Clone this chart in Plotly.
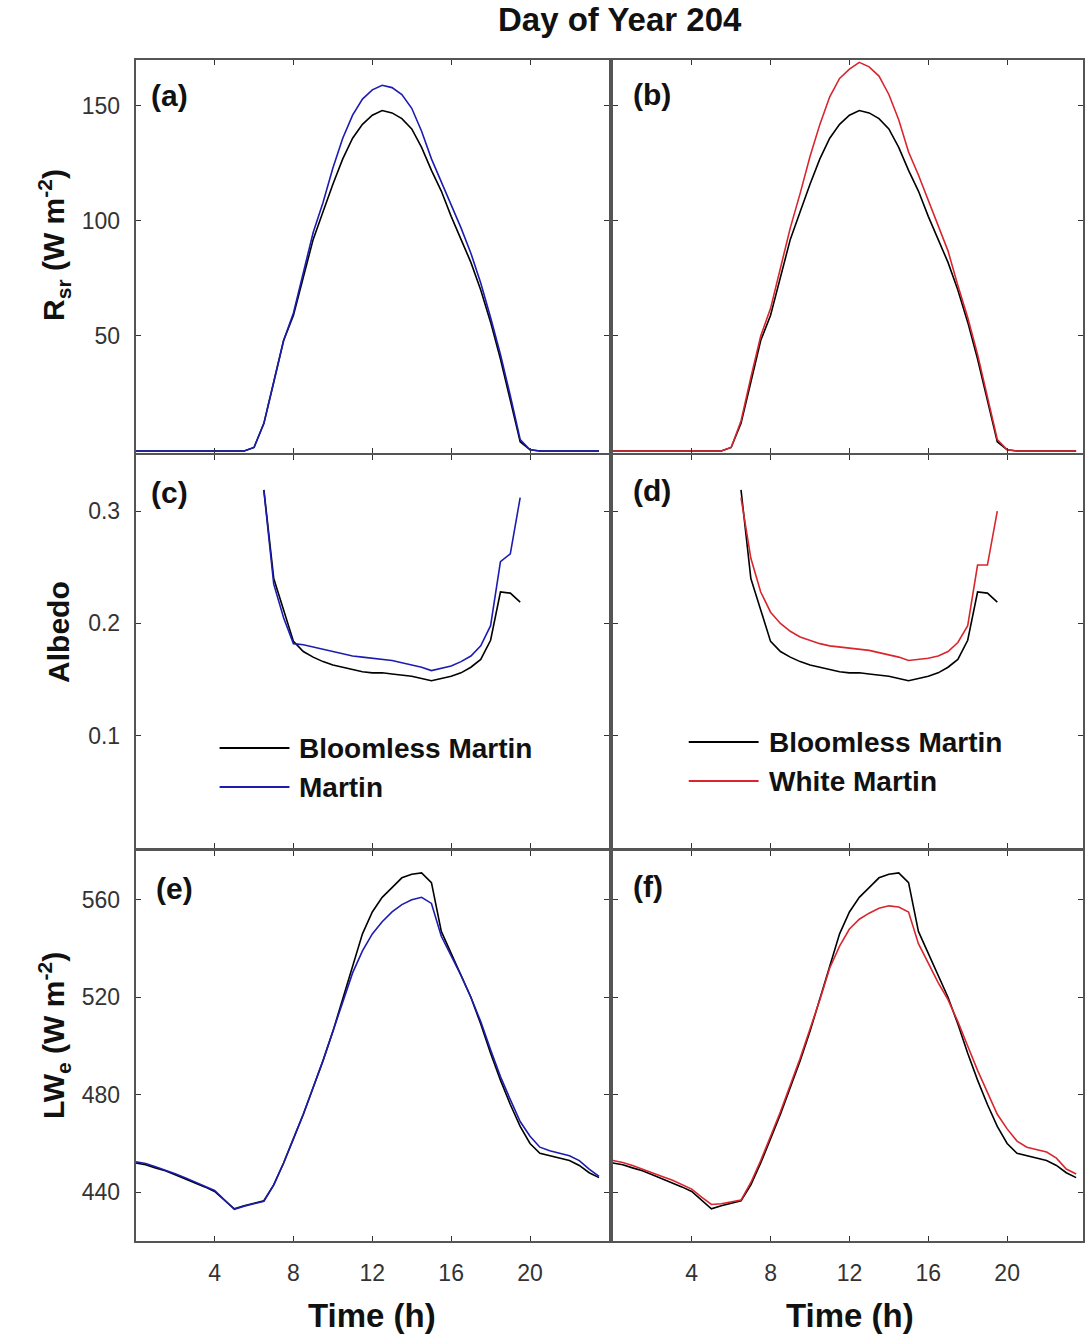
import plotly.graph_objects as go

W, H = 1085, 1340

hours = [0, 0.5, 1, 1.5, 2, 2.5, 3, 3.5, 4, 4.5, 5, 5.5, 6, 6.5, 7, 7.5, 8, 8.5, 9, 9.5,
         10, 10.5, 11, 11.5, 12, 12.5, 13, 13.5, 14, 14.5, 15, 15.5, 16, 16.5, 17, 17.5,
         18, 18.5, 19, 19.5, 20, 20.5, 21, 21.5, 22, 22.5, 23, 23.5]

series_names = ["Bloomless Martin", "Martin", "White Martin"]

rsr_bloomless = [0]*12 + [1.5, 12, 30, 48, 59, 76, 92, 104, 116, 127, 136, 142, 146, 148, 147, 144.5,
                          140, 132, 122, 113, 102, 92, 82, 70, 56, 40, 22, 4, 0.5] + [0]*7
rsr_martin = [0]*12 + [1.5, 12, 30, 48, 60, 78, 95, 108, 123, 136, 146, 153, 157, 159, 158, 155,
                       149, 139, 127, 117, 107, 97, 86, 73, 58, 42, 24, 5, 0.5] + [0]*7
rsr_white = [0]*12 + [1.5, 13, 32, 50, 62, 80, 97, 112, 128, 142, 154, 162, 166, 169, 167, 163,
                      155, 144, 130, 120, 109, 98, 87, 72, 58, 42, 24, 5, 0.5] + [0]*7

alb_bloomless = [None]*13 + [0.319, 0.240, 0.212, 0.184, 0.175, 0.170, 0.166, 0.163, 0.161, 0.159,
                             0.157, 0.156, 0.156, 0.155, 0.154, 0.153, 0.151, 0.149, 0.151, 0.153,
                             0.156, 0.161, 0.168, 0.185, 0.228, 0.227, 0.219] + [None]*8
alb_martin = [None]*13 + [0.318, 0.235, 0.205, 0.182, 0.181, 0.179, 0.177, 0.175, 0.173, 0.171,
                          0.170, 0.169, 0.168, 0.167, 0.165, 0.163, 0.161, 0.158, 0.160, 0.162,
                          0.166, 0.171, 0.180, 0.198, 0.255, 0.262, 0.312] + [None]*8
alb_white = [None]*13 + [0.312, 0.258, 0.228, 0.210, 0.200, 0.193, 0.188, 0.185, 0.182, 0.180,
                         0.179, 0.178, 0.177, 0.176, 0.174, 0.172, 0.170, 0.167, 0.168, 0.169,
                         0.171, 0.175, 0.183, 0.198, 0.252, 0.252, 0.300] + [None]*8

lwe_bloomless = [452, 451.3, 450, 448.8, 447.2, 445.6, 444, 442.2, 440.3, 436.8, 433.2, 434.5, 435.5,
                 436.5, 443, 452, 462, 472, 483, 494, 506, 519, 533, 546, 555, 561, 565, 569, 570.5,
                 571, 567, 547, 538, 529, 520, 509, 497, 486, 476, 467, 460, 456, 455, 454, 453,
                 451, 448, 446]
lwe_martin = [452.5, 451.8, 450.5, 449.2, 447.6, 446, 444.4, 442.5, 440.7, 437, 433, 434.3, 435.3,
              436.3, 443, 452, 462, 472, 483, 494, 506, 518, 530, 539, 546, 551, 555, 558, 560,
              561, 558.5, 545, 537, 529, 520, 510, 498.5, 487.5, 478, 469, 463, 458.5, 457, 456,
              455, 453, 449.5, 446.5]
lwe_white = [453, 452.2, 451, 449.6, 448, 446.5, 445, 443, 441.3, 438, 435, 435.3, 436, 436.8, 444,
             453, 463, 473, 484, 495, 507, 519, 532, 541, 548, 552, 554.5, 556.5, 557.5, 557, 555,
             542, 534, 526, 519, 510, 500, 490, 481, 472, 466, 461, 458.5, 457.5, 456.5, 454,
             449.5, 447.5]

x_tickvals = [4, 8, 12, 16, 20]
y_ticks_rsr = [50, 100, 150]
y_ticks_alb = [0.1, 0.2, 0.3]
y_ticks_lwe = [440, 480, 520, 560]
panel_labels = ["(a)", "(b)", "(c)", "(d)", "(e)", "(f)"]

BLACK = "#000000"
BLUE = "#1c1cb0"
RED = "#d9262e"

# layout geometry (pixels)
col_x = [(136, 610, 24.0), (614, 1085, (1085 - 614) / 474 * 24)]
row_y = [(60, 453), (455, 848), (851, 1241)]
yranges = [[-0.9, 170], [0.0, 0.35], [420, 580]]

fig = go.Figure()

panels = [
    (rsr_bloomless, rsr_martin, BLUE), (rsr_bloomless, rsr_white, RED),
    (alb_bloomless, alb_martin, BLUE), (alb_bloomless, alb_white, RED),
    (lwe_bloomless, lwe_martin, BLUE), (lwe_bloomless, lwe_white, RED),
]

FONT = "Liberation Sans, Arial, sans-serif"

layout = {}
for i, (blk, col, colr) in enumerate(panels):
    r, c = divmod(i, 2)
    n = i + 1
    xa = "x" if n == 1 else f"x{n}"
    ya = "y" if n == 1 else f"y{n}"
    fig.add_trace(go.Scatter(x=hours, y=blk, mode="lines", line=dict(color=BLACK, width=1.6),
                             xaxis=xa, yaxis=ya, showlegend=False, connectgaps=False))
    fig.add_trace(go.Scatter(x=hours, y=col, mode="lines", line=dict(color=colr, width=1.6),
                             xaxis=xa, yaxis=ya, showlegend=False, connectgaps=False))
    x0, x1, xmax = col_x[c]
    y0, y1 = row_y[r]
    common = dict(showline=True, linecolor="#555555", linewidth=2, mirror="ticks",
                  ticks="inside", ticklen=5, tickwidth=1, tickcolor="#333333",
                  showgrid=False, zeroline=False,
                  tickfont=dict(family=FONT, size=23, color="#333333"))
    layout["xaxis" if n == 1 else f"xaxis{n}"] = dict(
        domain=[x0 / W, x1 / W], range=[0, xmax], anchor=ya, ticklabelstandoff=10,
        tickvals=x_tickvals, ticktext=[str(v) for v in x_tickvals],
        showticklabels=(r == 2), **common)
    if r == 0:
        yt = dict(tickvals=y_ticks_rsr, ticktext=[str(v) for v in y_ticks_rsr])
    elif r == 1:
        yt = dict(tickvals=y_ticks_alb, ticktext=[f"{v:.1f}" for v in y_ticks_alb])
    else:
        yt = dict(tickvals=y_ticks_lwe, ticktext=[str(v) for v in y_ticks_lwe])
    layout["yaxis" if n == 1 else f"yaxis{n}"] = dict(
        domain=[1 - y1 / H, 1 - y0 / H], range=yranges[r], anchor=xa, ticklabelstandoff=9,
        showticklabels=(c == 0), **yt, **common)

annotations = []
# panel labels
lab_pos = [(149, 96), (632, 94), (149, 492), (632, 490), (154, 888), (632, 886)]
for lab, (px, py) in zip(panel_labels, lab_pos):
    annotations.append(dict(text=f"<b>{lab}</b>", x=px / W, y=1 - py / H, xref="paper", yref="paper",
                            xanchor="left", yanchor="middle", showarrow=False,
                            font=dict(family=FONT, size=30, color="#111111")))
# title
annotations.append(dict(text="<b>Day of Year 204</b>", x=621 / W, y=1 - 19 / H, xref="paper",
                        yref="paper", xanchor="center", yanchor="middle", showarrow=False,
                        font=dict(family=FONT, size=33, color="#111111")))
# x titles
for cx in (373, 852):
    annotations.append(dict(text="<b>Time (h)</b>", x=cx / W, y=1 - 1315 / H, xref="paper",
                            yref="paper", xanchor="center", yanchor="middle", showarrow=False,
                            font=dict(family=FONT, size=33, color="#111111")))
# y titles
ytitles = [("<b>R<sub>sr</sub> (W m<sup>-2</sup>)</b>", 245, 54), ("<b>Albedo</b>", 632, 58),
           ("<b>LW<sub>e</sub> (W m<sup>-2</sup>)</b>", 1035, 54)]
for txt, cy, cx in ytitles:
    annotations.append(dict(text=txt, x=cx / W, y=1 - cy / H, xref="paper", yref="paper",
                            xanchor="center", yanchor="middle", textangle=-90, showarrow=False,
                            font=dict(family=FONT, size=30, color="#111111")))

# legends
shapes = []
legends = [((220, 290, 298), [(748, BLACK, series_names[0]), (787, BLUE, series_names[1])]),
           ((690, 760, 768), [(742, BLACK, series_names[0]), (781, RED, series_names[2])])]
for (lx0, lx1, tx), items in legends:
    for ly, colr, name in items:
        shapes.append(dict(type="line", xref="paper", yref="paper", x0=lx0 / W, x1=lx1 / W,
                           y0=1 - ly / H, y1=1 - ly / H, line=dict(color=colr, width=2)))
        annotations.append(dict(text=f"<b>{name}</b>", x=tx / W, y=1 - ly / H, xref="paper",
                                yref="paper", xanchor="left", yanchor="middle", showarrow=False,
                                font=dict(family=FONT, size=28, color="#111111")))

fig.update_layout(width=W, height=H, margin=dict(l=0, r=0, t=0, b=0),
                  paper_bgcolor="white", plot_bgcolor="white",
                  annotations=annotations, shapes=shapes, **layout)

fig.write_html("out.html")
